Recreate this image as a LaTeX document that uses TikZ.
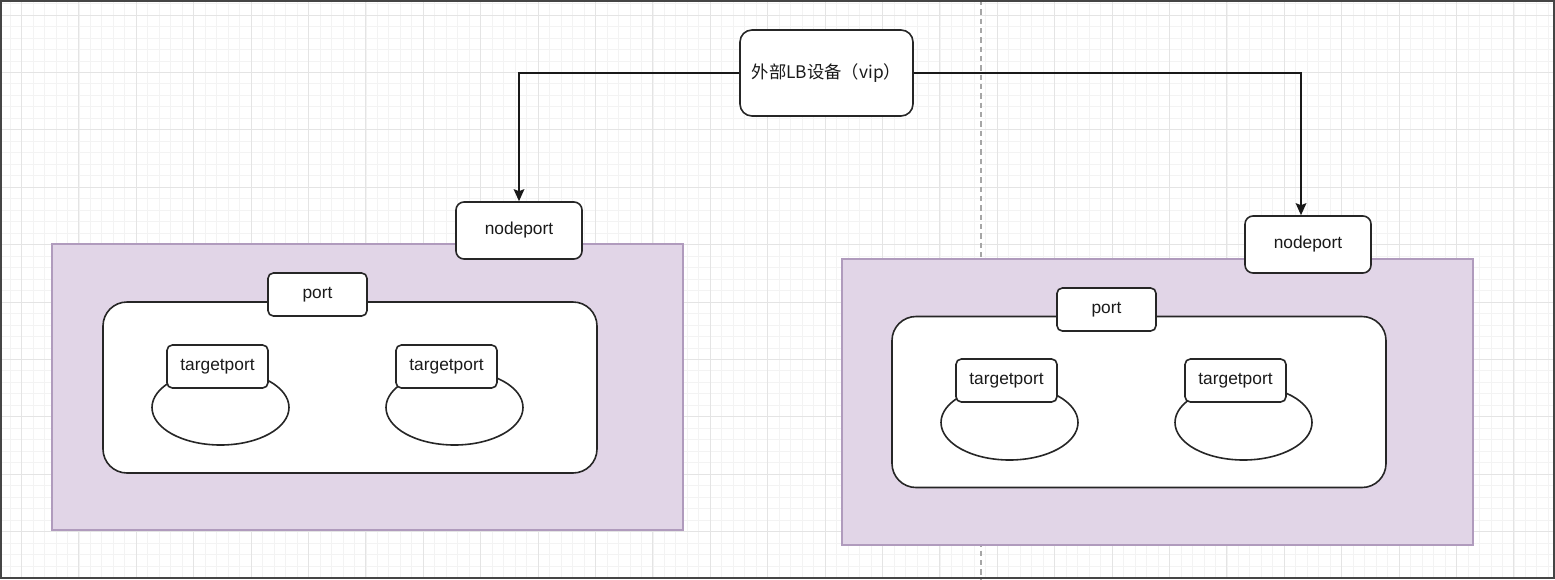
\documentclass[tikz,border=0pt]{standalone}
\usepackage{fontspec}
\setmainfont{Liberation Sans}
\newfontfamily\cjk{Noto Sans CJK SC}
\usetikzlibrary{shapes.geometric,arrows.meta}

\definecolor{podfill}{HTML}{E1D5E7}
\definecolor{poddraw}{HTML}{B09BBD}
\definecolor{gridminor}{HTML}{F3F3F3}
\definecolor{gridmajor}{HTML}{E4E4E4}
\definecolor{framegray}{HTML}{454545}
\definecolor{inktext}{HTML}{1A1A1A}

\tikzset{every picture/.style={line width=0.75pt}}
\tikzset{
  box/.style={draw=black!85, fill=white, line width=1.2pt, text=inktext,
    font=\fontsize{13}{15}\selectfont, inner sep=0pt, align=center},
  lbbox/.style={box, rounded corners=9pt, minimum width=129.75pt, minimum height=64.5pt},
  npbox/.style={box, rounded corners=6pt, minimum width=94.5pt, minimum height=42.75pt},
  portbox/.style={box, rounded corners=4pt, minimum width=74.25pt, minimum height=32.25pt},
  tpbox/.style={box, rounded corners=4pt, minimum width=75.75pt, minimum height=32.25pt},
  svcbox/.style={box, rounded corners=18pt, minimum width=370.5pt, minimum height=128.25pt},
  podell/.style={box, ellipse, minimum width=102.75pt, minimum height=56.25pt},
  nodearea/.style={draw=poddraw, fill=podfill, line width=1pt, inner sep=0pt,
    minimum width=473.25pt, minimum height=214.5pt},
  link/.style={draw=black!90, line width=1.3pt, -{Stealth[length=9pt,width=8pt,inset=1.5pt]}}
}

\begin{document}
\begin{tikzpicture}[x=0.75pt,y=0.75pt,yscale=-1,xscale=1]
\useasboundingbox (0,0) rectangle (1555,579);

%Grid
\foreach \k in {0,...,134} \draw[gridminor, line width=0.6pt] (10.02+\k*11.48,0) -- (10.02+\k*11.48,579);
\foreach \k in {0,...,50} \draw[gridminor, line width=0.6pt] (0,3.52+\k*11.48) -- (1555,3.52+\k*11.48);
\foreach \k in {0,...,26} \draw[gridmajor, line width=0.7pt] (21.5+\k*57.4,0) -- (21.5+\k*57.4,579);
\foreach \k in {0,...,9} \draw[gridmajor, line width=0.7pt] (0,15+\k*57.4) -- (1555,15+\k*57.4);

%Dashed divider
\draw[black!35, dash pattern=on 4pt off 3pt, line width=0.8pt] (981,0) -- (981,579);

%Shape: Node areas
\node[nodearea] (areaL) at (367.5,387) {};
\node[nodearea] (areaR) at (1157.5,402) {};

%Shape: Service boxes
\node[svcbox] (svcL) at (350,387.5) {};
\node[svcbox] (svcR) at (1139,402) {};

% Text Node
\node[portbox] (portL) at (317.5,294.5) {port};
\node[portbox] (portR) at (1106.5,309.5) {port};

%Shape: Ellipses
\node[podell] (podLa) at (220.5,407.5) {};
\node[podell] (podLb) at (454.5,407.5) {};
\node[podell] (podRa) at (1009.5,422.5) {};
\node[podell] (podRb) at (1243.5,422.5) {};

% Text Node
\node[tpbox] (tpLa) at (217.5,366.5) {targetport};
\node[tpbox] (tpLb) at (446.5,366.5) {targetport};
\node[tpbox] (tpRa) at (1006.5,380.5) {targetport};
\node[tpbox] (tpRb) at (1235.5,380.5) {targetport};

% Text Node
\node[npbox] (npL) at (519,230.5) {nodeport};
\node[npbox] (npR) at (1308,244.5) {nodeport};

% Text Node
\node[lbbox] (lb) at (826.5,73) {\cjk 外部LB设备（vip）};

%Connectors
\draw[link] (lb.west) -| (npL.north);
\draw[link] (lb.east) -| ([xshift=-5.25pt]npR.north);

%Frame
\draw[framegray, line width=1.4pt] (1,1) rectangle (1554,578);

\end{tikzpicture}
\end{document}
